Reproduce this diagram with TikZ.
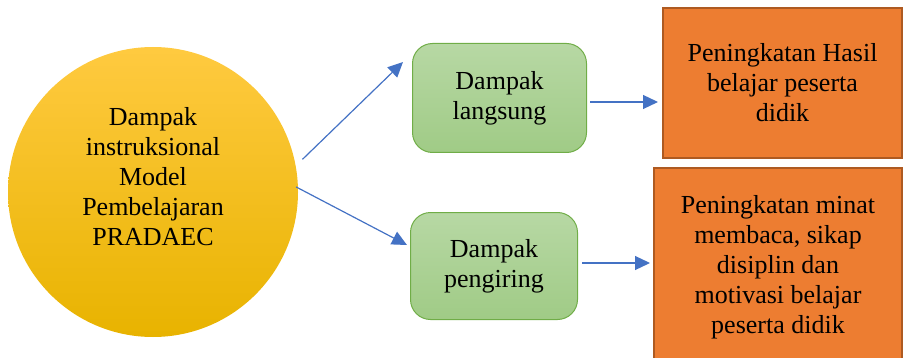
\documentclass[tikz,border=0pt]{standalone}
\usepackage{fontspec}
\setmainfont{Liberation Serif}
\usepackage{xcolor}
\usetikzlibrary{arrows.meta}
\usetikzlibrary{positioning}

\definecolor{arrblue}{HTML}{4472C4}
\definecolor{goldtop}{HTML}{FFCA40}
\definecolor{goldmid}{HTML}{FFC000}
\definecolor{goldbot}{HTML}{E8B300}
\definecolor{greentop}{HTML}{B7D8A4}
\definecolor{greenbot}{HTML}{A0CB86}
\definecolor{greenline}{HTML}{70AD47}
\definecolor{orangefill}{HTML}{ED7D31}
\definecolor{orangeline}{HTML}{AE5A21}

\begin{document}
\begin{tikzpicture}[x=1pt,y=-1pt,
    txt/.style={align=center,font=\fontsize{26}{30}\selectfont},
    greenbox/.style={txt,draw=greenline,line width=1pt,rounded corners=20pt,top color=greentop,bottom color=greenbot},
    orangebox/.style={txt,draw=orangeline,line width=2pt,fill=orangefill},
    arr/.style={draw=arrblue,line width=1.2pt,-{Triangle[length=15pt,width=14pt]}}]
    \useasboundingbox (0,0) rectangle (907,358);
    \clip (0,0) rectangle (907,358);

    % main circle
    \node(circ)[circle,minimum size=290pt,top color=goldtop,middle color=goldmid,bottom color=goldbot] at (153,192) {};
    \node(circtxt)[txt,inner sep=0] at (153,177) {Dampak\\instruksional\\Model\\Pembelajaran\\PRADAEC};

    % impacts
    \node(g1)[greenbox,minimum width=174pt,minimum height=109pt] at (499.5,98) {Dampak\\langsung};
    \node(g2)[greenbox,minimum width=167pt,minimum height=107pt] at (494,266) {Dampak\\pengiring};

    % results
    \node(o1)[orangebox,minimum width=239pt,minimum height=150pt] at (782.5,83) {Peningkatan Hasil\\belajar peserta\\didik};
    \node(o2)[orangebox,minimum width=248pt,minimum height=198pt] at (778,267) {Peningkatan minat\\membaca, sikap\\disiplin dan\\motivasi belajar\\peserta didik};

    \draw[arr] ([xshift=8pt]circ.13) -- ([xshift=-9pt,yshift=36pt]g1.west);
    \draw[arr] ([xshift=-2pt]circ.2) -- ([xshift=-3pt,yshift=21pt]g2.west);
    \draw[arr] ([xshift=3pt,yshift=-4pt]g1.east) -- ([xshift=-4pt,yshift=-19pt]o1.west);
    \draw[arr] ([xshift=4pt,yshift=3pt]g2.east) -- ([xshift=-3pt,yshift=4pt]o2.west);
\end{tikzpicture}
\end{document}
